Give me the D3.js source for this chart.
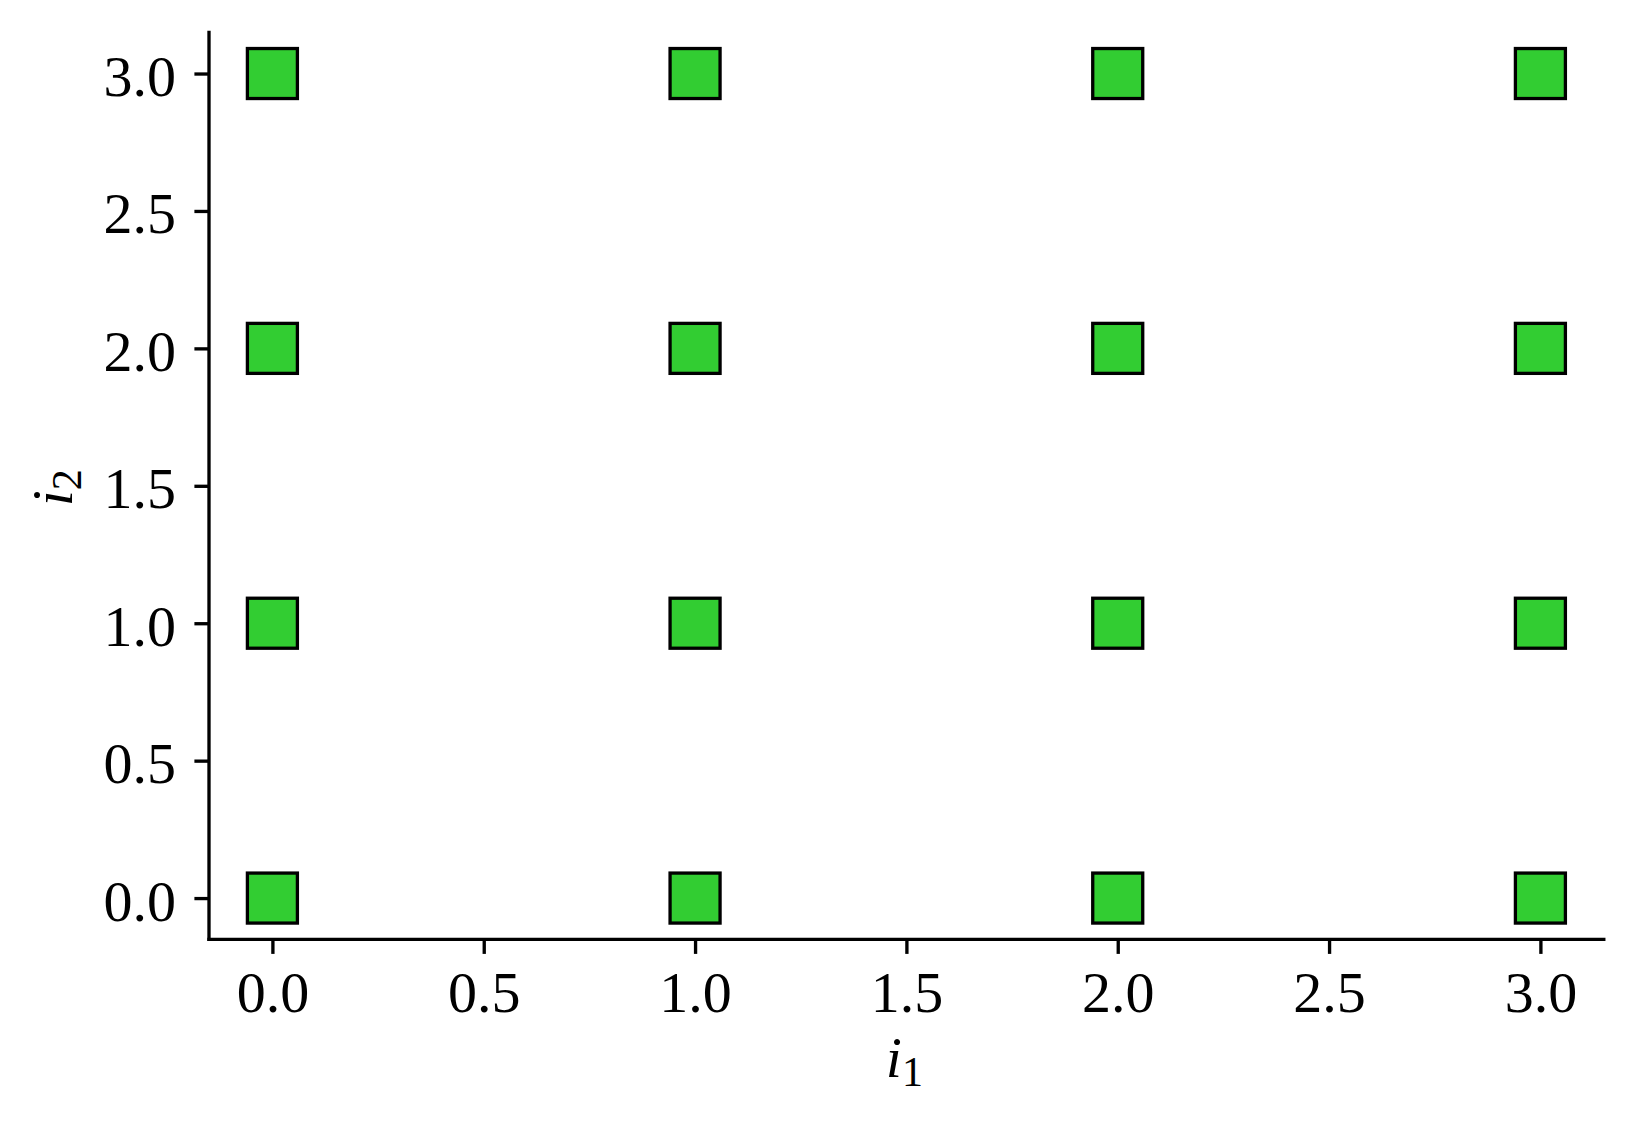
<!DOCTYPE html>
<html>
<head>
<meta charset="utf-8">
<script src="https://cdn.jsdelivr.net/npm/d3@7"></script>
<style>
  html, body { margin: 0; padding: 0; background: #fff; }
  svg { display: block; }
</style>
</head>
<body>
<svg id="chart" width="1637" height="1132"></svg>
<script>
// ---- data ----
const i1Values = [0, 1, 2, 3];
const i2Values = [0, 1, 2, 3];
const xTicks = [0, 0.5, 1, 1.5, 2, 2.5, 3];
const yTicks = [0, 0.5, 1, 1.5, 2, 2.5, 3];
const xDomain = [-0.15, 3.15];
const yDomain = [-0.15, 3.15];

const points = [];
i1Values.forEach(a => i2Values.forEach(b => points.push({ i1: a, i2: b })));

// ---- layout ----
const W = 1637, H = 1132;
const mLeft = 209.0, mRight = 1603.8, mTop = 32.3, mBottom = 939.3;
const FONT = "'Liberation Serif', 'DejaVu Serif', serif";
const FS = 58;
const LW = 3.33;

const svg = d3.select("#chart");
svg.append("rect").attr("width", W).attr("height", H).attr("fill", "#fff");

const x = d3.scaleLinear().domain(xDomain).range([mLeft, mRight]);
const y = d3.scaleLinear().domain(yDomain).range([mBottom, mTop]);

// markers
const side = 50;
svg.append("g").selectAll("rect")
  .data(points)
  .join("rect")
  .attr("x", d => x(d.i1) - side / 2)
  .attr("y", d => y(d.i2) - side / 2)
  .attr("width", side)
  .attr("height", side)
  .attr("fill", "#32cd32")
  .attr("stroke", "#000")
  .attr("stroke-width", 3.3);

// x axis
const fmt = d3.format(".1f");
const gx = svg.append("g").attr("transform", `translate(0,${mBottom})`)
  .call(d3.axisBottom(x).tickValues(xTicks).tickFormat(fmt).tickSize(14.6).tickSizeOuter(0));
gx.select(".domain").remove();
gx.selectAll(".tick line").attr("stroke", "#000").attr("stroke-width", LW);
gx.selectAll(".tick text")
  .attr("y", 72.7).attr("dy", 0)
  .attr("font-family", FONT).attr("font-size", FS).attr("fill", "#000");

// y axis
const gy = svg.append("g").attr("transform", `translate(${mLeft},0)`)
  .call(d3.axisLeft(y).tickValues(yTicks).tickFormat(fmt).tickSize(14.6).tickSizeOuter(0));
gy.select(".domain").remove();
gy.selectAll(".tick line").attr("stroke", "#000").attr("stroke-width", LW);
gy.selectAll(".tick text")
  .attr("x", -33).attr("dy", 0).attr("y", 22)
  .attr("font-family", FONT).attr("font-size", FS).attr("fill", "#000");

// spines (projecting caps)
svg.append("line").attr("x1", mLeft).attr("x2", mLeft).attr("y1", mTop).attr("y2", mBottom)
  .attr("stroke", "#000").attr("stroke-width", LW).attr("stroke-linecap", "square");
svg.append("line").attr("x1", mLeft).attr("x2", mRight).attr("y1", mBottom).attr("y2", mBottom)
  .attr("stroke", "#000").attr("stroke-width", LW).attr("stroke-linecap", "square");

// axis labels
const xl = svg.append("text")
  .attr("x", (mLeft + mRight) / 2 - 2).attr("y", 1077)
  .attr("text-anchor", "middle")
  .attr("font-family", FONT).attr("font-size", FS).attr("fill", "#000");
xl.append("tspan").attr("font-style", "italic").text("i");
xl.append("tspan").attr("font-size", 42).attr("dy", 9).text("1");

const yl = svg.append("text")
  .attr("transform", `translate(72,${(mTop + mBottom) / 2 + 2}) rotate(-90)`)
  .attr("text-anchor", "middle")
  .attr("font-family", FONT).attr("font-size", FS).attr("fill", "#000");
yl.append("tspan").attr("font-style", "italic").text("i");
yl.append("tspan").attr("font-size", 42).attr("dy", 9).text("2");
</script>
</body>
</html>
